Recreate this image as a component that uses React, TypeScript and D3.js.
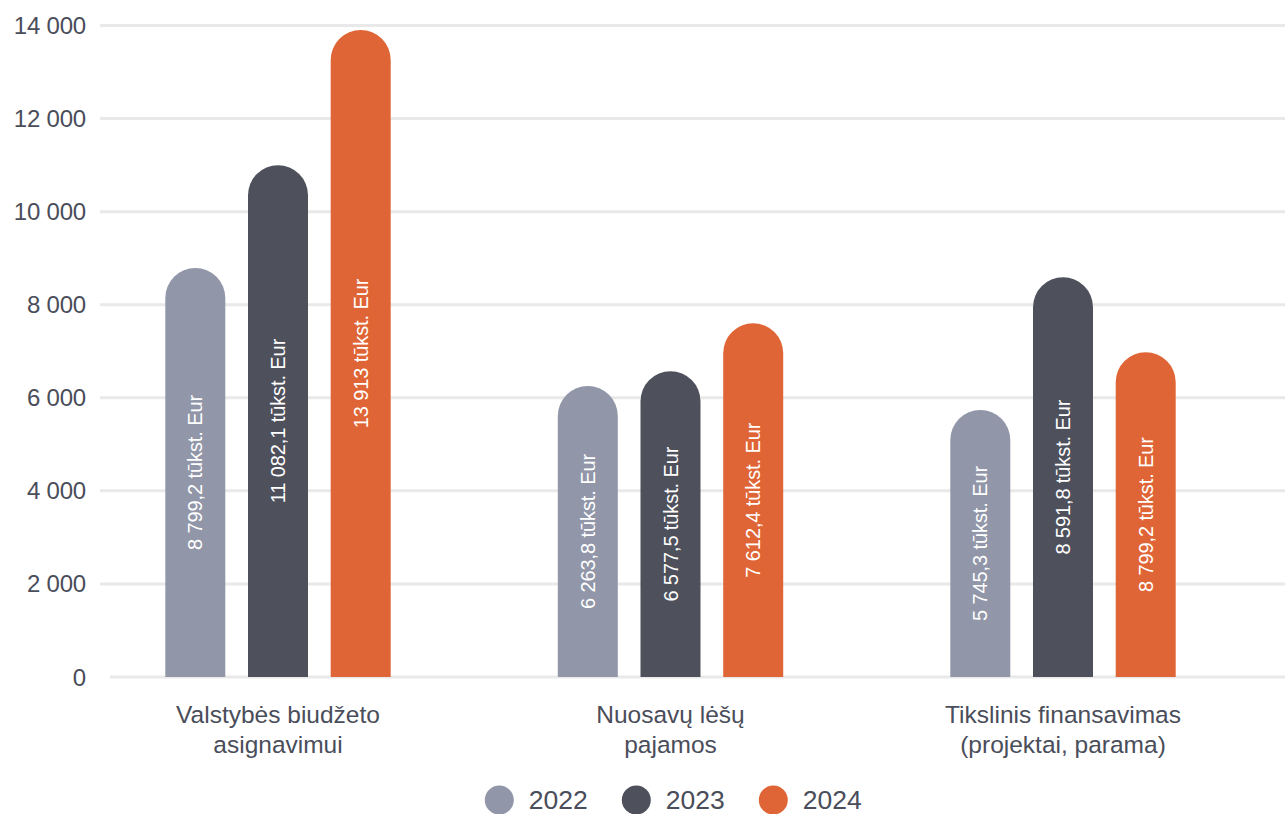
import React from "react";
import * as d3 from "d3";

const categories: string[][] = [
  ["Valstybės biudžeto", "asignavimui"],
  ["Nuosavų lėšų", "pajamos"],
  ["Tikslinis finansavimas", "(projektai, parama)"],
];
const years = ["2022", "2023", "2024"];
const values2022 = [8790, 6255, 5740];
const values2023 = [11000, 6570, 8590];
const values2024 = [13905, 7600, 6980];
const labels2022 = ["8 799,2 tūkst. Eur", "6 263,8 tūkst. Eur", "5 745,3 tūkst. Eur"];
const labels2023 = ["11 082,1 tūkst. Eur", "6 577,5 tūkst. Eur", "8 591,8 tūkst. Eur"];
const labels2024 = ["13 913 tūkst. Eur", "7 612,4 tūkst. Eur", "8 799,2 tūkst. Eur"];
const yTicks = [0, 2000, 4000, 6000, 8000, 10000, 12000, 14000];

const colors = ["#9196a8", "#4e505c", "#e06536"];
const textColor = "#4a4d5a";
const gridColor = "#e9e9e9";
const FONT = "'Liberation Sans', Arial, sans-serif";

const W = 1285;
const H = 814;

export default function App() {
  const y = d3.scaleLinear().domain([0, 14000]).range([677, 25.5]);
  const catKeys = categories.map((c) => c.join(" "));
  const x = d3.scaleBand<string>().domain(catKeys).range([81.75, 1259.25]).padding(0);
  const inner = d3
    .scaleBand<string>()
    .domain(years)
    .range([-124.05, 124.05])
    .paddingInner(0.2745)
    .paddingOuter(0.13725);
  const series = [values2022, values2023, values2024];
  const labels = [labels2022, labels2023, labels2024];
  const fmt = (v: number) => d3.format(",")(v).replace(/,/g, " ");
  const base = y(0);

  return (
    <svg
      width={W}
      height={H}
      style={{ position: "absolute", left: 0, top: 0, background: "#fff" }}
      fontFamily={FONT}
    >
      {yTicks.map((t) => (
        <g key={t}>
          <line
            x1={t === 0 ? 110 : 100}
            x2={W}
            y1={y(t)}
            y2={y(t)}
            stroke={gridColor}
            strokeWidth={3}
          />
          <text
            x={86}
            y={y(t)}
            textAnchor="end"
            dominantBaseline="central"
            fontSize={24}
            fill={textColor}
            letterSpacing={-0.2}
          >
            {fmt(t)}
          </text>
        </g>
      ))}
      {catKeys.map((ck, ci) => {
        const cx = (x(ck) as number) + x.bandwidth() / 2;
        return (
          <g key={ck}>
            {years.map((yr, yi) => {
              const v = series[yi][ci];
              const x0 = cx + (inner(yr) as number);
              const w = inner.bandwidth();
              const x1 = x0 + w;
              const r = w / 2;
              const top = y(v);
              const path = `M${x0},${base} L${x0},${top + r} A${r},${r} 0 0 1 ${x1},${top + r} L${x1},${base} Z`;
              const mid = (top + base) / 2;
              return (
                <g key={yr}>
                  <path d={path} fill={colors[yi]} />
                  <text
                    transform={`translate(${x0 + r},${mid}) rotate(-90)`}
                    textAnchor="middle"
                    dominantBaseline="central"
                    fill="#fff"
                    fontSize={20}
                    letterSpacing={-0.1}
                  >
                    {labels[yi][ci]}
                  </text>
                </g>
              );
            })}
            {categories[ci].map((line, li) => (
              <text
                key={li}
                x={cx}
                y={723 + li * 30}
                textAnchor="middle"
                fontSize={24.5}
                fill={textColor}
              >
                {line}
              </text>
            ))}
          </g>
        );
      })}
      {years.map((yr, i) => {
        const lx = 499.3 + i * 137;
        return (
          <g key={yr}>
            <circle cx={lx} cy={800} r={14.5} fill={colors[i]} />
            <text
              x={lx + 29.5}
              y={800}
              dominantBaseline="central"
              fontSize={26.5}
              fill={textColor}
            >
              {yr}
            </text>
          </g>
        );
      })}
    </svg>
  );
}
